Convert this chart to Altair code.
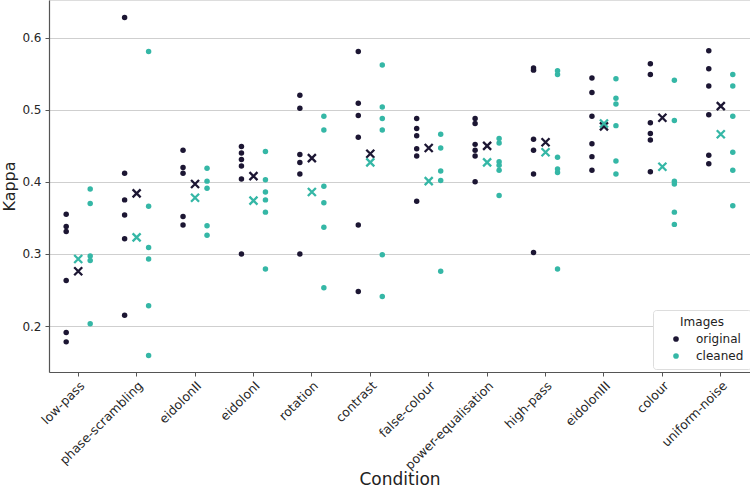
import altair as alt
import pandas as pd

conditions = ["low-pass", "phase-scrambling", "eidolonII", "eidolonI", "rotation",
              "contrast", "false-colour", "power-equalisation", "high-pass",
              "eidolonIII", "colour", "uniform-noise"]

original_vals = [
    [0.355, 0.338, 0.331, 0.263, 0.191, 0.178],
    [0.628, 0.412, 0.375, 0.354, 0.321, 0.215],
    [0.444, 0.420, 0.412, 0.352, 0.340],
    [0.449, 0.440, 0.431, 0.422, 0.404, 0.300],
    [0.520, 0.502, 0.438, 0.427, 0.411, 0.300],
    [0.581, 0.509, 0.492, 0.462, 0.340, 0.248],
    [0.488, 0.474, 0.464, 0.446, 0.436, 0.373],
    [0.488, 0.481, 0.452, 0.444, 0.436, 0.400],
    [0.558, 0.555, 0.459, 0.444, 0.411, 0.302],
    [0.544, 0.524, 0.491, 0.453, 0.435, 0.416],
    [0.564, 0.549, 0.482, 0.467, 0.458, 0.414],
    [0.582, 0.557, 0.533, 0.493, 0.437, 0.425],
]
cleaned_vals = [
    [0.390, 0.370, 0.297, 0.291, 0.203],
    [0.581, 0.366, 0.309, 0.293, 0.228, 0.159],
    [0.419, 0.401, 0.391, 0.339, 0.326],
    [0.442, 0.403, 0.386, 0.375, 0.358, 0.279],
    [0.491, 0.472, 0.394, 0.371, 0.337, 0.253],
    [0.562, 0.504, 0.488, 0.472, 0.299, 0.241],
    [0.466, 0.447, 0.415, 0.402, 0.276],
    [0.460, 0.454, 0.428, 0.423, 0.416, 0.381],
    [0.554, 0.549, 0.434, 0.418, 0.413, 0.279],
    [0.543, 0.516, 0.508, 0.478, 0.429, 0.411],
    [0.541, 0.485, 0.401, 0.397, 0.358, 0.341],
    [0.549, 0.533, 0.491, 0.441, 0.416, 0.367],
]
original_mean = [0.276, 0.384, 0.397, 0.408, 0.433, 0.439, 0.447, 0.450, 0.455, 0.477, 0.489, 0.505]
cleaned_mean = [0.293, 0.323, 0.378, 0.374, 0.386, 0.427, 0.401, 0.427, 0.441, 0.481, 0.421, 0.466]

groups = ["original", "cleaned"]
colors = ["#1c1633", "#35b7a6"]

rows = []
for c, ov, cv in zip(conditions, original_vals, cleaned_vals):
    for v in ov:
        rows.append({"Condition": c, "Images": "original", "Kappa": v})
    for v in cv:
        rows.append({"Condition": c, "Images": "cleaned", "Kappa": v})
dots = pd.DataFrame(rows)

mrows = []
for c, om, cm in zip(conditions, original_mean, cleaned_mean):
    mrows.append({"Condition": c, "Images": "original", "Kappa": om})
    mrows.append({"Condition": c, "Images": "cleaned", "Kappa": cm})
means = pd.DataFrame(mrows)

font = "DejaVu Sans"

xenc = alt.X("Condition:N", sort=conditions,
             scale=alt.Scale(domain=conditions, paddingInner=0, paddingOuter=0),
             axis=alt.Axis(title="Condition", labelAngle=-45, labelAlign="right",
                           labelBaseline="top", labelFontSize=12.5, labelColor="#262626",
                           labelPadding=3, tickSize=4, tickColor="#555555",
                           domainColor="#555555", domainWidth=1.2, grid=False,
                           titleFontSize=17, titleFontWeight="normal", titleColor="#222222",
                           titleY=112, titleBaseline="alphabetic"))
yenc = alt.Y("Kappa:Q", scale=alt.Scale(domain=[0.1362, 0.6523], nice=False, zero=False),
             axis=alt.Axis(title="Kappa", values=[0.2, 0.3, 0.4, 0.5, 0.6], format=".1f",
                           labelFontSize=12, labelColor="#262626", labelPadding=4,
                           tickSize=4, tickColor="#555555", domainColor="#555555",
                           domainWidth=1.2, grid=True, gridColor="#cfcfcf", gridWidth=1.2,
                           titleFontSize=16, titleFontWeight="normal", titleColor="#222222",
                           titleX=-32, titleY=186, titleAngle=-90, titleBaseline="bottom",
                           titleAlign="center"))
color = alt.Color("Images:N", scale=alt.Scale(domain=groups, range=colors),
                  sort=groups,
                  legend=alt.Legend(title="Images", orient="none", legendX=604, legendY=310,
                                    titleFontSize=12, titleFontWeight="normal",
                                    titleColor="#222222", titleAnchor="middle",
                                    labelFontSize=12, labelColor="#222222",
                                    symbolType="circle", symbolSize=32, symbolStrokeWidth=0,
                                    padding=7, strokeColor="#dddddd", fillColor="white",
                                    cornerRadius=3, rowPadding=5, labelOffset=14,
                                    titlePadding=4, symbolOffset=10))

dot_layer = alt.Chart(dots).mark_circle(size=30, opacity=1).encode(
    x=xenc, y=yenc, color=color,
    xOffset=alt.XOffset("Images:N", sort=groups,
                        scale=alt.Scale(type="point", domain=groups, range=[17.2, 41.2], padding=0)),
)

cross_layer = alt.Chart(means).mark_point(
    shape="M-1,-1L1,1M-1,1L1,-1", size=64, filled=False, strokeWidth=2.3, opacity=1
).encode(
    x=alt.X("Condition:N", sort=conditions),
    y="Kappa:Q",
    color=alt.Color("Images:N", legend=None),
)

chart = alt.layer(dot_layer, cross_layer).properties(
    width=701, height=372,
    autosize=alt.AutoSizeParams(type="none"),
    padding={"left": 49, "top": 0, "right": 0, "bottom": 116},
).configure_view(stroke=None).configure(font=font)

chart.save("out.html", embed_options={"renderer": "svg", "actions": False})
